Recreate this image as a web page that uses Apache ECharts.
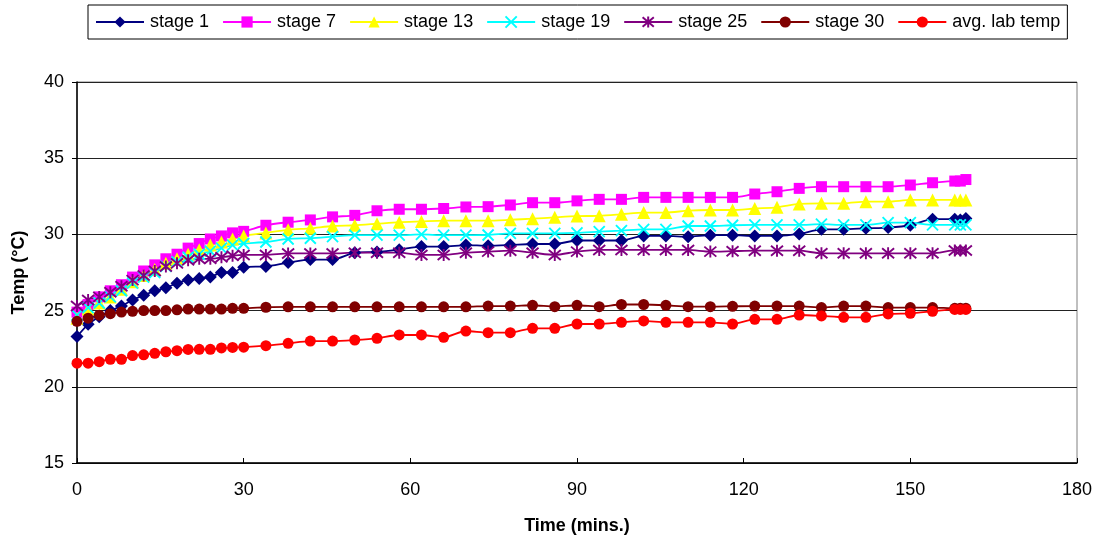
<!DOCTYPE html>
<html>
<head>
<meta charset="utf-8">
<script src="https://cdn.jsdelivr.net/npm/echarts@6/dist/echarts.min.js"></script>
<style>
  html, body { margin: 0; padding: 0; background: #fff; }
  #chart { width: 1097px; height: 544px; }
</style>
</head>
<body>
<div id="chart"></div>
<script>
// Sampling times (minutes)
const times = [0, 2, 4, 6, 8, 10, 12, 14, 16, 18, 20, 22, 24, 26, 28, 30,
  34, 38, 42, 46, 50, 54, 58, 62, 66, 70, 74, 78, 82, 86, 90, 94, 98, 102, 106, 110,
  114, 118, 122, 126, 130, 134, 138, 142, 146, 150, 154, 158, 159, 160];

// Temperatures (°C) per stage
const stage1 = [23.3, 24.1, 24.6, 25.0, 25.3, 25.7, 26.0, 26.3, 26.5, 26.8, 27.0, 27.1, 27.2, 27.5, 27.5, 27.85,
  27.9, 28.15, 28.35, 28.35, 28.8, 28.85, 29.0, 29.2, 29.2, 29.3, 29.25, 29.3, 29.37, 29.37, 29.6, 29.6, 29.6, 29.9, 29.9, 29.85,
  29.95, 29.95, 29.9, 29.9, 30.03, 30.33, 30.33, 30.4, 30.45, 30.6, 31.0, 31.0, 30.95, 31.05];
const stage7 = [24.9, 25.4, 25.9, 26.3, 26.7, 27.2, 27.6, 28.0, 28.4, 28.7, 29.1, 29.4, 29.7, 29.9, 30.1, 30.2,
  30.6, 30.8, 30.95, 31.15, 31.25, 31.55, 31.65, 31.65, 31.7, 31.8, 31.82, 31.93, 32.08, 32.08, 32.2, 32.3, 32.3, 32.43, 32.43, 32.43,
  32.43, 32.43, 32.65, 32.8, 33.02, 33.13, 33.13, 33.13, 33.13, 33.24, 33.39, 33.5, 33.5, 33.6];
const stage13 = [24.5, 25.1, 25.5, 25.9, 26.4, 26.9, 27.3, 27.7, 28.1, 28.4, 28.7, 29.0, 29.3, 29.5, 29.7, 29.9,
  30.1, 30.3, 30.4, 30.55, 30.6, 30.7, 30.8, 30.85, 30.9, 30.9, 30.9, 30.96, 31.03, 31.12, 31.2, 31.22, 31.32, 31.43, 31.43, 31.56,
  31.6, 31.6, 31.7, 31.78, 32.0, 32.04, 32.04, 32.15, 32.15, 32.26, 32.26, 32.26, 32.26, 32.26];
const stage19 = [24.7, 25.2, 25.5, 25.9, 26.3, 26.8, 27.2, 27.5, 27.9, 28.2, 28.5, 28.7, 28.9, 29.1, 29.3, 29.4,
  29.5, 29.7, 29.75, 29.85, 29.95, 29.95, 29.95, 30.0, 29.95, 29.95, 29.96, 30.07, 30.07, 30.07, 30.1, 30.18, 30.25, 30.33, 30.33, 30.55,
  30.55, 30.6, 30.62, 30.62, 30.62, 30.67, 30.62, 30.62, 30.77, 30.77, 30.62, 30.62, 30.62, 30.62];
const stage25 = [25.3, 25.7, 25.9, 26.2, 26.6, 27.0, 27.3, 27.6, 27.9, 28.1, 28.3, 28.4, 28.4, 28.5, 28.6, 28.65,
  28.65, 28.75, 28.75, 28.75, 28.8, 28.8, 28.8, 28.65, 28.65, 28.8, 28.87, 28.93, 28.8, 28.65, 28.87, 28.98, 28.98, 28.98, 28.98, 28.98,
  28.87, 28.9, 28.93, 28.93, 28.93, 28.76, 28.76, 28.76, 28.76, 28.76, 28.76, 28.95, 28.95, 28.95];
const stage30 = [24.3, 24.5, 24.7, 24.8, 24.9, 24.95, 25.0, 25.0, 25.0, 25.05, 25.1, 25.1, 25.1, 25.1, 25.15, 25.15,
  25.22, 25.25, 25.25, 25.25, 25.25, 25.25, 25.25, 25.25, 25.25, 25.25, 25.3, 25.3, 25.35, 25.26, 25.35, 25.26, 25.4, 25.4, 25.35, 25.26,
  25.26, 25.28, 25.3, 25.3, 25.3, 25.2, 25.3, 25.3, 25.2, 25.2, 25.2, 25.15, 25.15, 25.15];
const labTemp = [21.55, 21.55, 21.65, 21.8, 21.8, 22.05, 22.1, 22.2, 22.3, 22.37, 22.45, 22.46, 22.46, 22.55, 22.58, 22.6,
  22.7, 22.85, 23.0, 23.0, 23.07, 23.18, 23.4, 23.4, 23.25, 23.66, 23.55, 23.55, 23.84, 23.84, 24.12, 24.12, 24.23, 24.32, 24.23, 24.23,
  24.23, 24.12, 24.43, 24.43, 24.71, 24.65, 24.56, 24.56, 24.78, 24.82, 24.95, 25.08, 25.08, 25.08];

const xTicks = [0, 30, 60, 90, 120, 150, 180];
const yTicks = [15, 20, 25, 30, 35, 40];

const FONT = "'Liberation Sans', Arial, Helvetica, sans-serif";

const crossPath = 'path://M0 0 L10 10 M10 0 L0 10';
const starPath = 'path://M0 0 L10 10 M10 0 L0 10 M5 -1 L5 11';

function makeSeries(name, values, color, symbol, size, stroked) {
  return {
    name: name,
    type: 'line',
    data: times.map((t, i) => [t, values[i]]),
    smooth: 0.25,
    symbol: symbol,
    symbolSize: size,
    showAllSymbol: true,
    lineStyle: { color: color, width: 1.8 },
    itemStyle: stroked
      ? { color: 'rgba(0,0,0,0)', borderColor: color, borderWidth: 1.9 }
      : { color: color, borderWidth: 0 },
    emphasis: { disabled: true }
  };
}

const chart = echarts.init(document.getElementById('chart'), null, { renderer: 'canvas' });
chart.setOption({
  animation: false,
  backgroundColor: '#ffffff',
  textStyle: { fontFamily: FONT },
  legend: {
    left: 88,
    top: 5,
    padding: [8, 7, 8, 7],
    borderColor: '#000',
    borderWidth: 1,
    itemWidth: 48,
    itemHeight: 14,
    itemGap: 13,
    textStyle: { fontSize: 18, color: '#000', fontFamily: FONT, padding: [0, 0, 0, 1] },
    data: ['stage 1', 'stage 7', 'stage 13', 'stage 19', 'stage 25', 'stage 30', 'avg. lab temp']
  },
  grid: { left: 77, right: 20, top: 82, bottom: 81, show: true, borderColor: '#808080', borderWidth: 1 },
  xAxis: {
    type: 'value',
    min: xTicks[0],
    max: xTicks[xTicks.length - 1],
    interval: 30,
    name: 'Time (mins.)',
    nameLocation: 'middle',
    nameGap: 54,
    nameTextStyle: { fontSize: 18, fontWeight: 'bold', color: '#000', fontFamily: FONT },
    axisLine: { lineStyle: { color: '#000', width: 1.5 } },
    axisTick: { show: true, inside: true, length: 5, lineStyle: { color: '#000' } },
    axisLabel: { fontSize: 18, color: '#000', margin: 18, fontFamily: FONT },
    splitLine: { show: false }
  },
  yAxis: {
    type: 'value',
    min: yTicks[0],
    max: yTicks[yTicks.length - 1],
    interval: 5,
    name: 'Temp (°C)',
    nameLocation: 'middle',
    nameGap: 49,
    nameRotate: 90,
    nameTextStyle: { fontSize: 18, fontWeight: 'bold', color: '#000', fontFamily: FONT },
    axisLine: { show: true, lineStyle: { color: '#000', width: 1.5 } },
    axisTick: { show: true, length: 5, lineStyle: { color: '#000' } },
    axisLabel: { fontSize: 18, color: '#000', margin: 13, fontFamily: FONT },
    splitLine: { show: true, lineStyle: { color: '#222', width: 1 } }
  },
  series: [
    makeSeries('stage 1', stage1, '#000080', 'diamond', 13, false),
    makeSeries('stage 7', stage7, '#FF00FF', 'rect', 11, false),
    makeSeries('stage 13', stage13, '#FFFF00', 'triangle', 13, false),
    makeSeries('stage 19', stage19, '#00FFFF', crossPath, 11, true),
    makeSeries('stage 25', stage25, '#800080', starPath, 12, true),
    makeSeries('stage 30', stage30, '#800000', 'circle', 11, false),
    makeSeries('avg. lab temp', labTemp, '#FF0000', 'circle', 11, false)
  ]
});
</script>
</body>
</html>
